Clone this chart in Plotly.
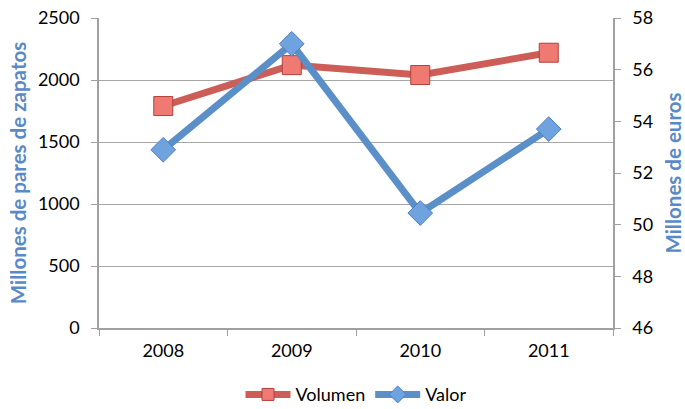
import plotly.graph_objects as go

years = ["2008", "2009", "2010", "2011"]
volumen = [1790, 2120, 2040, 2220]
valor = [52.9, 57.0, 50.45, 53.7]

red = "#CD5D57"
blue = "#5B8FC8"
title_blue = "#5A8AC6"
font = "Lato"
axis_gray = "#A0A0A0"

red_marker = dict(color="#EE7A72", line=dict(color="#B5403B", width=1))
blue_marker = dict(color="#6FA3E0", line=dict(color="#4C7FBE", width=1))

fig = go.Figure()
fig.add_trace(go.Scatter(
    x=years, y=volumen, name="Volumen", mode="lines+markers", showlegend=False,
    line=dict(color=red, width=7),
    marker=dict(symbol="square", size=19, **red_marker),
    yaxis="y"))
fig.add_trace(go.Scatter(
    x=years, y=valor, name="Valor", mode="lines+markers", showlegend=False,
    line=dict(color=blue, width=7),
    marker=dict(symbol="diamond", size=19, **blue_marker),
    yaxis="y2"))
# legend entries (smaller symbols, like the reference legend)
fig.add_trace(go.Scatter(
    x=[None], y=[None], name="Volumen", mode="lines+markers",
    line=dict(color=red, width=7), marker=dict(symbol="square", size=12, **red_marker)))
fig.add_trace(go.Scatter(
    x=[None], y=[None], name="Valor", mode="lines+markers",
    line=dict(color=blue, width=7), marker=dict(symbol="diamond", size=13, **blue_marker)))

fig.update_layout(
    width=685, height=409,
    margin=dict(l=99, r=72, t=18, b=81, autoexpand=False),
    paper_bgcolor="white", plot_bgcolor="white",
    font=dict(family=font, size=18, color="black"),
    showlegend=True,
    legend=dict(orientation="h", x=0.5, xanchor="center", y=-0.275, yanchor="bottom",
                font=dict(size=18, family=font), itemwidth=45, tracegroupgap=0),
    xaxis=dict(type="category", tickson="boundaries", ticks="outside", ticklen=6,
               tickcolor=axis_gray, showline=True, linecolor=axis_gray, linewidth=1.5,
               showgrid=False, range=[-0.5, 3.5], tickfont=dict(size=18),
               ticklabelstandoff=6, automargin=False),
    yaxis=dict(range=[0, 2500], dtick=500, ticks="outside", ticklen=6, tickcolor=axis_gray,
               showline=True, linecolor=axis_gray, linewidth=1.5, automargin=False,
               showgrid=True, gridcolor="#A6A6A6", gridwidth=1.3, zeroline=False,
               ticklabelstandoff=8,
               title=dict(text="<b>Millones de pares de zapatos</b>", font=dict(color=title_blue, size=20.5), standoff=6)),
    yaxis2=dict(range=[46, 58], dtick=2, overlaying="y", side="right", ticks="outside", ticklen=6,
                tickcolor=axis_gray, showline=True, linecolor=axis_gray, linewidth=1.5,
                showgrid=False, zeroline=False, automargin=False, ticklabelstandoff=8,
                title=dict(text="<b>Millones de euros</b>", font=dict(color=title_blue, size=20.5), standoff=16)),
)

fig.write_html("out.html", post_script="document.body.style.margin='0';",
               config={"displayModeBar": False})
